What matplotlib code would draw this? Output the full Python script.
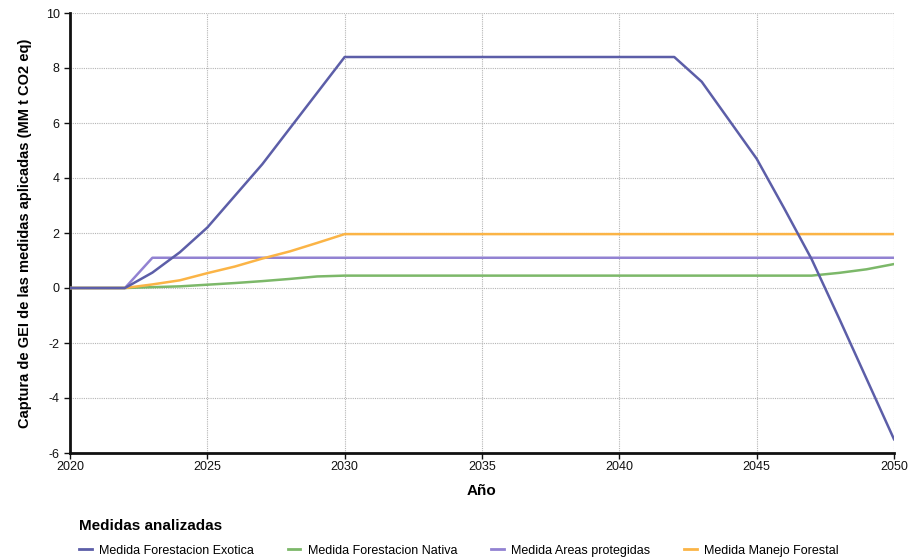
import matplotlib.pyplot as plt
from matplotlib.lines import Line2D

plt.rcParams['font.family'] = ['Liberation Sans', 'DejaVu Sans']
plt.rcParams['axes.unicode_minus'] = False

# Data
years = list(range(2020, 2051))
exotica = [0, 0, 0, 0.56, 1.3, 2.2, 3.35, 4.5, 5.8, 7.1, 8.4,
           8.4, 8.4, 8.4, 8.4, 8.4, 8.4, 8.4, 8.4, 8.4, 8.4, 8.4, 8.4,
           7.5, 6.1, 4.7, 2.9, 1.05, -1.1, -3.3, -5.5]
nativa = [0, 0, 0, 0.03, 0.06, 0.12, 0.18, 0.25, 0.33, 0.42, 0.45,
          0.45, 0.45, 0.45, 0.45, 0.45, 0.45, 0.45, 0.45, 0.45, 0.45, 0.45, 0.45,
          0.45, 0.45, 0.45, 0.45, 0.45, 0.55, 0.68, 0.87]
areas = [0, 0, 0] + [1.1] * 28
manejo = [0, 0, 0, 0.13, 0.28, 0.54, 0.78, 1.07, 1.33, 1.64, 1.96] + [1.96] * 20

labels = ['Medida Forestacion Exotica', 'Medida Forestacion Nativa',
          'Medida Areas protegidas', 'Medida Manejo Forestal']
colors = ['#5c5ea8', '#7cb869', '#9282d2', '#fbb446']

fig = plt.figure(figsize=(9.12, 5.6), dpi=100)
ax = fig.add_axes([70 / 912, 1 - 453 / 560, 824 / 912, 440 / 560])

# draw order: areas, nativa, manejo, exotica on top
ax.plot(years, areas, color=colors[2], lw=1.8, zorder=3)
ax.plot(years, nativa, color=colors[1], lw=1.8, zorder=3)
ax.plot(years, manejo, color=colors[3], lw=1.8, zorder=3)
ax.plot(years, exotica, color=colors[0], lw=1.8, zorder=4)

ax.set_xlim(2020, 2050)
ax.set_ylim(-6, 10)
ax.set_xticks(range(2020, 2051, 5))
ax.set_yticks(range(-6, 11, 2))
ax.grid(True, color='#b5b5b5', linestyle=(0, (1, 1)), linewidth=0.8)
ax.set_axisbelow(True)

for s in ['top', 'right']:
    ax.spines[s].set_visible(False)
for s in ['left', 'bottom']:
    ax.spines[s].set_linewidth(2)
    ax.spines[s].set_color('#111111')
ax.tick_params(axis='both', labelsize=9, colors='#111111', length=4, width=1)
ax.tick_params(axis='x', pad=2)

ax.set_xlabel('Año', fontsize=11, fontweight='bold', labelpad=8)
ax.set_ylabel('Captura de GEI de las medidas aplicadas (MM t CO2 eq)',
              fontsize=10.5, fontweight='bold', labelpad=10)

# Legend
handles = [Line2D([], [], color=c, lw=2) for c in colors]
leg = fig.legend(handles, labels, loc='lower left', bbox_to_anchor=(68 / 912, -0.014),
                 ncol=4, frameon=False, fontsize=9, handlelength=1.0,
                 handletextpad=0.6, columnspacing=2.7, title='Medidas analizadas',
                 title_fontproperties={'weight': 'bold', 'size': 11})
leg._legend_box.align = 'left'
leg._legend_box.sep = 8

fig.savefig('out.png', dpi=100)
